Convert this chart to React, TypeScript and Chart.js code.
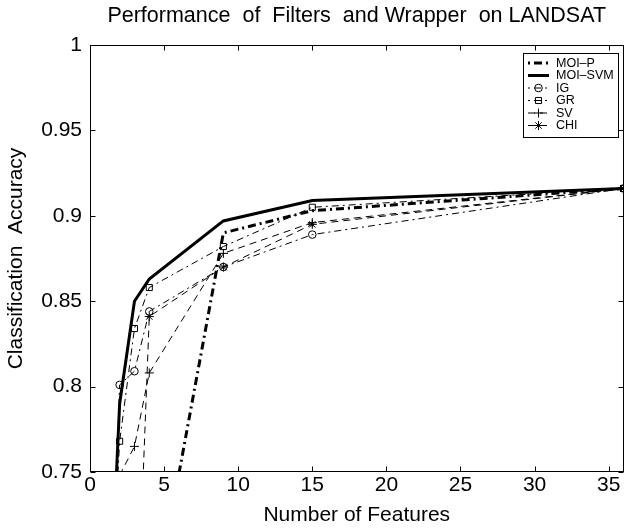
import React, { useEffect, useRef } from 'react';
import { Chart, registerables } from 'chart.js';
import { drawPoint } from 'chart.js/helpers';

Chart.register(...registerables);

// ---- data ----
const featureCounts = [1, 2, 3, 4, 9, 15, 36];
const moiP = [0.5, 0.55, 0.6, 0.655, 0.89, 0.903, 0.916];
const moiSvm = [0.6, 0.79, 0.85, 0.863, 0.897, 0.909, 0.916];
const igAcc = [0.55, 0.801, 0.809, 0.844, 0.87, 0.889, 0.916];
const grAcc = [0.6, 0.768, 0.834, 0.858, 0.882, 0.905, 0.916];
const svAcc = [0.65, 0.748, 0.765, 0.808, 0.878, 0.896, 0.916];
const chiAcc = [0.5, 0.55, 0.615, 0.841, 0.87, 0.895, 0.916];
const seriesNames = ['MOI–P', 'MOI–SVM', 'IG', 'GR', 'SV', 'CHI'];

const xTickValues = [0, 5, 10, 15, 20, 25, 30, 35];
const xTickLabels = ['0', '5', '10', '15', '20', '25', '30', '35'];
const yTickValues = [0.75, 0.8, 0.85, 0.9, 0.95, 1];
const yTickLabels = ['0.75', '0.8', '0.85', '0.9', '0.95', '1'];

const titleText = 'Performance  of  Filters  and Wrapper  on LANDSAT';
const xTitle = 'Number of Features';
const yTitle = 'Classification  Accuracy';

const FONT = "'Liberation Sans', Arial, Helvetica, sans-serif";

const toPoints = (ys: number[]) => featureCounts.map((x, i) => ({ x, y: ys[i] }));

const framePlugin = {
  id: 'frame',
  afterDraw(chart: any) {
    const { ctx, chartArea: a, scales } = chart;
    const L = Math.round(a.left) + 0.5;
    const R = Math.round(a.right) - 0.5;
    const T = Math.round(a.top) + 0.5;
    const B = Math.round(a.bottom) - 0.5;
    ctx.save();
    ctx.strokeStyle = '#000';
    ctx.lineWidth = 1;
    ctx.strokeRect(L, T, R - L, B - T);
    const tl = 5;
    ctx.beginPath();
    for (const v of xTickValues) {
      const px = Math.round(scales.x.getPixelForValue(v)) + 0.5;
      ctx.moveTo(px, B);
      ctx.lineTo(px, B - tl);
      ctx.moveTo(px, T);
      ctx.lineTo(px, T + tl);
    }
    for (const v of yTickValues) {
      const py = Math.round(scales.y.getPixelForValue(v)) + 0.5;
      ctx.moveTo(L, py);
      ctx.lineTo(L + tl, py);
      ctx.moveTo(R, py);
      ctx.lineTo(R - tl, py);
    }
    ctx.stroke();
    ctx.restore();
  },
};

const legendPlugin = {
  id: 'boxLegend',
  afterDraw(chart: any) {
    const { ctx, chartArea: a } = chart;
    const w = 96;
    const h = 85;
    const bx = Math.round(a.right) - 5 - w;
    const by = Math.round(a.top) + 8;
    ctx.save();
    ctx.fillStyle = '#fff';
    ctx.fillRect(bx, by, w, h);
    ctx.strokeStyle = '#000';
    ctx.lineWidth = 1;
    ctx.strokeRect(bx + 0.5, by + 0.5, w - 1, h - 1);
    chart.data.datasets.forEach((ds: any, i: number) => {
      const y = by + 10 + i * 12.5;
      const x0 = bx + 5;
      const x1 = bx + 26;
      ctx.save();
      ctx.strokeStyle = '#000';
      ctx.lineWidth = ds.borderWidth;
      const dash = ds.borderDash || [];
      ctx.setLineDash(dash);
      ctx.lineDashOffset = ds.legendDashOffset || 0;
      ctx.beginPath();
      ctx.moveTo(x0, y);
      ctx.lineTo(x1, y);
      ctx.stroke();
      ctx.restore();
      if (ds.pointRadius > 0) {
        ctx.save();
        ctx.strokeStyle = '#000';
        ctx.fillStyle = 'rgba(0,0,0,0)';
        ctx.lineWidth = 1;
        ctx.setLineDash([]);
        drawPoint(ctx, { pointStyle: ds.pointStyle, radius: ds.pointRadius, rotation: 0, borderWidth: 1 }, (x0 + x1) / 2, y);
        ctx.restore();
      }
      ctx.fillStyle = '#000';
      ctx.font = `12.5px ${FONT}`;
      ctx.textBaseline = 'middle';
      ctx.textAlign = 'left';
      ctx.fillText(ds.label, bx + 33, y + 0.5);
    });
    ctx.restore();
  },
};

export default function App() {
  const ref = useRef<HTMLCanvasElement | null>(null);

  useEffect(() => {
    document.body.style.margin = '0';
    const canvas = ref.current;
    if (!canvas) return;
    const thinDashDot = [7, 4, 2, 4];
    const dashed = [7, 5];
    const common = {
      borderColor: '#000',
      pointBorderColor: '#000',
      pointBackgroundColor: 'rgba(0,0,0,0)',
      pointBorderWidth: 1,
      tension: 0,
      clip: 0,
      fill: false,
    };
    const chart = new Chart(canvas, {
      type: 'line',
      data: {
        datasets: [
          { ...common, label: seriesNames[0], data: toPoints(moiP), borderWidth: 3, borderDash: [8, 4, 2, 4], legendDashOffset: 12, pointRadius: 0 },
          { ...common, label: seriesNames[1], data: toPoints(moiSvm), borderWidth: 3, pointRadius: 0 },
          { ...common, label: seriesNames[2], data: toPoints(igAcc), borderWidth: 1, borderDash: thinDashDot, legendDashOffset: 11, pointStyle: 'circle', pointRadius: 3.8 },
          { ...common, label: seriesNames[3], data: toPoints(grAcc), borderWidth: 1, borderDash: thinDashDot, legendDashOffset: 11, pointStyle: 'rect', pointRadius: 4.3 },
          { ...common, label: seriesNames[4], data: toPoints(svAcc), borderWidth: 1, borderDash: dashed, legendDashOffset: 0, pointStyle: 'cross', pointRadius: 4.5 },
          { ...common, label: seriesNames[5], data: toPoints(chiAcc), borderWidth: 1, borderDash: dashed, legendDashOffset: 0, pointStyle: 'star', pointRadius: 4.5 },
        ] as any,
      },
      options: {
        animation: false,
        responsive: false,
        maintainAspectRatio: false,
        layout: { padding: { left: 0, right: 1, top: 0, bottom: 0 } },
        plugins: {
          legend: { display: false },
          tooltip: { enabled: false },
          title: {
            display: true,
            text: titleText,
            fullSize: false,
            color: '#000',
            font: { family: FONT, size: 21.5, weight: 'normal', lineHeight: 1.2 },
            padding: { top: 3, bottom: 16.2 },
          },
        },
        scales: {
          x: {
            type: 'linear',
            min: 0,
            max: 36,
            afterBuildTicks: (s: any) => {
              s.ticks = xTickValues.map((v) => ({ value: v }));
            },
            afterFit: (s: any) => {
              s.height = 57;
            },
            grid: { display: false, drawTicks: false },
            border: { display: false },
            ticks: {
              color: '#000',
              font: { family: FONT, size: 21 },
              padding: 1,
              maxRotation: 0,
              autoSkip: false,
              callback: (_v: any, i: number) => xTickLabels[i],
            },
            title: {
              display: true,
              text: xTitle,
              color: '#000',
              font: { family: FONT, size: 21, lineHeight: 1.2 },
              padding: { top: 0, bottom: 1 },
            },
          },
          y: {
            type: 'linear',
            min: 0.75,
            max: 1,
            afterBuildTicks: (s: any) => {
              s.ticks = yTickValues.map((v) => ({ value: v }));
            },
            afterFit: (s: any) => {
              s.width = 90;
            },
            grid: { display: false, drawTicks: false },
            border: { display: false },
            ticks: {
              color: '#000',
              font: { family: FONT, size: 21 },
              padding: 8,
              autoSkip: false,
              callback: (_v: any, i: number) => yTickLabels[i],
            },
            title: {
              display: true,
              text: yTitle,
              color: '#000',
              font: { family: FONT, size: 21, lineHeight: 1.2 },
              padding: { top: 4, bottom: 4 },
            },
          },
        },
      } as any,
      plugins: [framePlugin, legendPlugin],
    });
    return () => chart.destroy();
  }, []);

  return (
    <div style={{ width: 629, height: 529, background: '#fff' }}>
      <canvas ref={ref} width={629} height={529} />
    </div>
  );
}
